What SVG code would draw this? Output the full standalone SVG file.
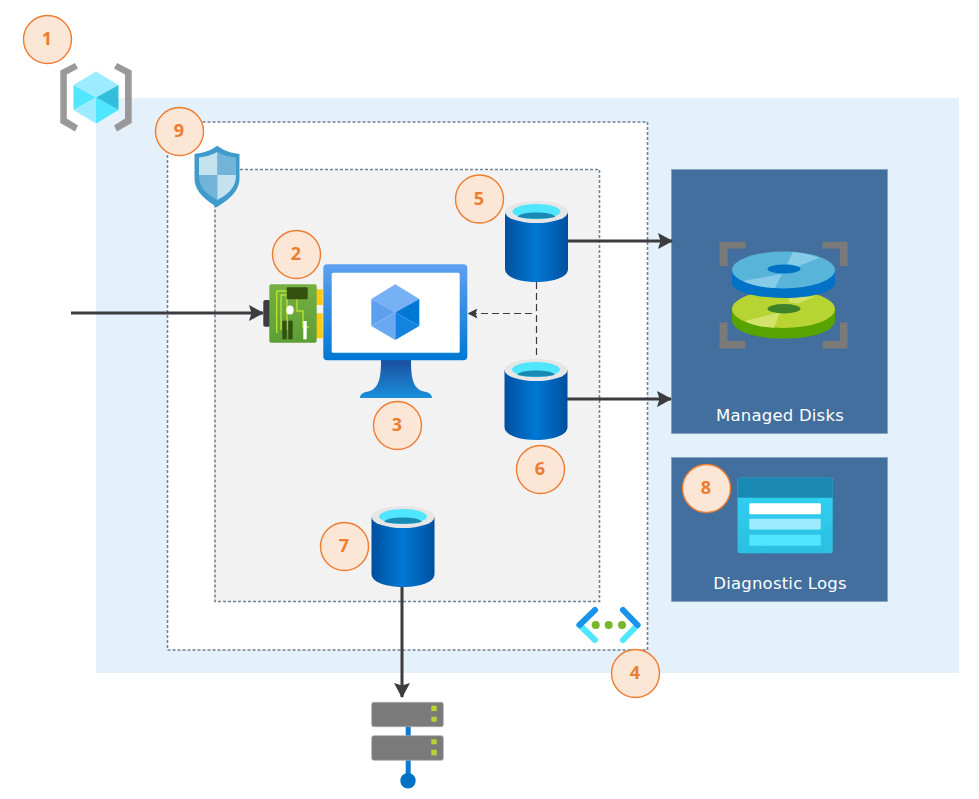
<svg xmlns="http://www.w3.org/2000/svg" width="979" height="799" viewBox="0 0 979 799">
<style>
.badge circle{fill:#fce6d6;stroke:#ed7d31;stroke-width:1.4}
.badge text{font-family:"Open Sans","Noto Sans",sans-serif;font-weight:700;font-size:18px;fill:#ed7d31;text-anchor:middle}
.lbl{font-family:"DejaVu Sans",Verdana,sans-serif;font-size:16.500px;letter-spacing:.2px;fill:#fff;text-anchor:middle}
.dash{stroke:#6f8296;stroke-width:1.600;stroke-dasharray:3 2}
.conn{fill:none;stroke:#3b3b40;stroke-width:3}
.thin{fill:none;stroke:#3b3b40;stroke-width:1.200;stroke-dasharray:7 4}
.panel{fill:#426f9d;stroke:#7f9fc0;stroke-width:.7}
.rack{fill:#7a7a7a;stroke:#aaa;stroke-width:.7}
.led{fill:#b8d432}
.chev{fill:none;stroke-width:6;stroke-linecap:round}
.dot{fill:#76b82a}
.bracket{fill:#999}
</style>
<defs>
<marker id="ah" markerUnits="userSpaceOnUse" viewBox="0 0 15 16" refX="14" refY="8" markerWidth="15" markerHeight="16" orient="auto"><path d="M0 0L15 8L0 16L2.500 8Z" fill="#3b3b40"/></marker>
<marker id="as" markerUnits="userSpaceOnUse" viewBox="0 0 10 10" refX="9.500" refY="5" markerWidth="10" markerHeight="10" orient="auto"><path d="M0 0L10 5L0 10L2 5Z" fill="#3b3b40"/></marker>
<linearGradient id="cyl"><stop offset="0" stop-color="#00509e"/><stop offset=".5" stop-color="#0078d4"/><stop offset="1" stop-color="#00509e"/></linearGradient>
<linearGradient id="mon" x2="0" y2="1"><stop offset="0" stop-color="#5ea0ef"/><stop offset="1" stop-color="#0078d4"/></linearGradient>
<linearGradient id="stand" x2="0" y2="1"><stop offset="0" stop-color="#1b4f9e"/><stop offset="1" stop-color="#1a8fdc"/></linearGradient>
<linearGradient id="log" x2="0" y2="1"><stop offset="0" stop-color="#32d4f5"/><stop offset="1" stop-color="#2bbfe0"/></linearGradient>
<linearGradient id="board" x2="0" y2="1"><stop offset="0" stop-color="#76b043"/><stop offset="1" stop-color="#5c9e35"/></linearGradient>
<g id="cylinder">
<path d="M0 11V68C0 76 14 81 31.500 81S63 76 63 68V11Z" fill="url(#cyl)"/>
<ellipse cx="31.500" cy="11" rx="31.500" ry="11" fill="#e6e6e6"/>
<ellipse cx="31.500" cy="10.500" rx="24" ry="7.500" fill="#50e6ff"/>
<path d="M12.500 15.500C17 10 46 10 50.500 15.500C46 18.500 17 18.500 12.500 15.500Z" fill="#198ab3"/>
</g>
</defs>

<rect id="region" x="96" y="98" width="863" height="575" fill="#e4f0fa"/>
<g id="vnet"><rect x="167.500" y="122" width="480" height="528" fill="#fff" class="dash"/></g>
<g id="subnet"><rect x="215" y="169.500" width="384.500" height="432" fill="#f2f2f2" class="dash"/></g>

<g id="managed-disks">
<rect class="panel" x="671.500" y="169.500" width="216" height="264"/>
<path d="M719.500 266V241.700H745.500V248.500H727.500V266ZM847.500 266V241.700H822.500V248.500H840V266ZM719.500 322.500V348.500H745.500V340.700H727.500V322.500ZM847.500 322.500V348.500H822.500V340.700H840V322.500Z" fill="#7a7a7a"/>
<path d="M732 309V320C732 331 754 338.500 784 338.500S835 331 835 320V309Z" fill="#57a300"/>
<ellipse cx="783.500" cy="309" rx="51.500" ry="19" fill="#b8d432"/>
<path d="M745 321L780 312.300L774 327.700Q755 327 745 321ZM790 297L815 296.500L798 303.500L788 302Z" fill="#d2e26b"/>
<ellipse cx="784" cy="308.700" rx="16.500" ry="4.700" fill="#3e8128"/>
<path d="M732 270V283C732 291 754 298 784 298S835 291 835 283V270Z" fill="#0072c6"/>
<ellipse cx="783.500" cy="270" rx="51.500" ry="18.500" fill="#59b4d9"/>
<path d="M743 281L782 274L775 288Q755 287 743 281ZM793 252Q808 253 819 258L795 267.500L787 264Z" fill="#86cce8"/>
<ellipse cx="784" cy="269" rx="16.500" ry="4.500" fill="#0072c6"/>
<text class="lbl" x="780" y="421">Managed Disks</text>
</g>

<g id="diagnostic-logs">
<rect class="panel" x="671.500" y="457.500" width="216" height="144"/>
<rect x="737.500" y="477.700" width="95.200" height="75.600" rx="2" fill="url(#log)"/>
<path d="M737.500 497.700V479.700Q737.500 477.700 739.500 477.700H830.700Q832.700 477.700 832.700 479.700V497.700Z" fill="#1a8ab5"/>
<rect x="749.300" y="503.300" width="71.500" height="11" rx="1" fill="#fff"/>
<rect x="749.300" y="518.700" width="71.500" height="10.700" rx="1" fill="#9cebff"/>
<rect x="749.300" y="534.700" width="71.500" height="11" rx="1" fill="#50e6ff"/>
<text class="lbl" x="780" y="589">Diagnostic Logs</text>
</g>

<g id="connectors">
<path class="conn" d="M71 313H263" marker-end="url(#ah)"/>
<path class="conn" d="M567 241H672" marker-end="url(#ah)"/>
<path class="conn" d="M567 399H671" marker-end="url(#ah)"/>
<path class="conn" d="M402 586V697" marker-end="url(#ah)"/>
<path class="thin" d="M536.500 282V362"/>
<path class="thin" d="M532 313.500H468" marker-end="url(#as)"/>
</g>

<g id="resource-group">
<path class="bracket" d="M60.300 70.500L75 63L78 68.500L66.800 74.500V118.500L78 125.500L75 131.500L60.300 123Z"/>
<path class="bracket" d="M131.700 70.500L117 63L114 68.500L125 74.500V118.500L114 125.500L117 131.500L131.700 123Z"/>
<path d="M96 71.500L118.500 85L96 97.500L73.500 85Z" fill="#9cebff"/>
<path d="M73.500 85L96 97.500L73.500 110Z" fill="#50e6ff"/>
<path d="M118.500 85V110L96 97.500Z" fill="#32bedd"/>
<path d="M73.500 110L96 97.500V123.500Z" fill="#9cebff"/>
<path d="M118.500 110L96 97.500V123.500Z" fill="#50e6ff"/>
</g>

<g id="nsg">
<path d="M217.300 145.700C224 151 232 153 239.500 154V178C239.500 193 226 201 217 207.300C208 201 194.500 193 194.500 178V154C202 153 210 151 217.300 145.700Z" fill="#3f9bcc"/>
<path d="M217.300 152C222 155 230 157 236 157.500V175H217.300Z" fill="#71b4d8"/>
<path d="M217.300 152C212 155 205 157 199 157.500V175H217.300Z" fill="#c5e2ef"/>
<path d="M199 175H217.300V200C208 195 199 189 199 175Z" fill="#71b4d8"/>
<path d="M236 175H217.300V200C226 195 236 189 236 175Z" fill="#c5e2ef"/>
</g>

<g id="nic">
<rect x="263.300" y="300" width="7" height="26.700" rx="2" fill="#3b3b40"/>
<rect x="316" y="289.300" width="6.700" height="15.700" fill="#ffc90e"/>
<rect x="316" y="313.300" width="6.700" height="25" fill="#ffc90e"/>
<rect x="269.300" y="284.300" width="47.400" height="58.400" rx="2" fill="url(#board)"/>
<path d="M276.700 333V291H287V330M281 330V295H287M297 298V311H303V327H309" fill="none" stroke="#b8e02f" stroke-width="1.400"/>
<rect x="286.700" y="287.300" width="21" height="12" rx="1" fill="#33520f"/>
<ellipse cx="290" cy="310" rx="3.700" ry="4.500" fill="#fff"/>
<rect x="282.300" y="320.700" width="4.400" height="18.600" fill="#33520f"/>
<rect x="288.300" y="320.700" width="4.400" height="18.600" fill="#33520f"/>
<rect x="303.300" y="321" width="3.400" height="18.300" fill="#fff"/>
</g>

<g id="vm">
<path d="M381 360H411C411 378 413 389 424 391.500C430 392.500 432 395 432 398H360C360 395 362 392.500 368 391.500C379 389 381 378 381 360Z" fill="url(#stand)"/>
<rect x="323.300" y="264.300" width="144" height="96" rx="4" fill="url(#mon)"/>
<rect x="331.700" y="272.700" width="128" height="80" rx="1.500" fill="#fff"/>
<path d="M395.300 284.300L419.300 299L395.300 312.300L371.300 299Z" fill="#76b0f5"/>
<path d="M371.300 299L395.300 312.300L371.300 326Z" fill="#5ea0ef"/>
<path d="M371.300 326L395.300 312.300V340Z" fill="#6aa8f2"/>
<path d="M419.300 299L395.300 312.300L419.300 326Z" fill="#0078d4"/>
<path d="M419.300 326L395.300 312.300V340Z" fill="#1283de"/>
</g>

<g id="disk-os"><use href="#cylinder" x="505" y="201"/></g>
<g id="disk-data"><use href="#cylinder" x="504.500" y="359"/></g>
<g id="disk-temp"><use href="#cylinder" x="371.500" y="506"/></g>

<g id="vnet-icon">
<path class="chev" d="M579.500 625L595 640" stroke="#50e6ff"/>
<path class="chev" d="M637.500 625L623 640" stroke="#50e6ff"/>
<path class="chev" d="M595 610L579.500 625" stroke="#1b93eb"/>
<path class="chev" d="M623 610L637.500 625" stroke="#1b93eb"/>
<circle class="dot" cx="595.700" cy="625" r="4"/>
<circle class="dot" cx="608.700" cy="625" r="4"/>
<circle class="dot" cx="622" cy="625" r="4"/>
</g>

<g id="on-premises">
<rect x="405.700" y="726" width="5" height="10" fill="#0f78d0"/>
<rect x="405.700" y="760" width="5" height="15" fill="#0f78d0"/>
<circle cx="408" cy="780.700" r="7.700" fill="#0072c6"/>
<rect class="rack" x="371.700" y="702.300" width="71.600" height="24.400" rx="2"/>
<rect class="rack" x="371.700" y="735.700" width="71.600" height="24.600" rx="2"/>
<rect class="led" x="431.300" y="705.700" width="5.400" height="5.400"/>
<rect class="led" x="431.300" y="716.700" width="5.400" height="5"/>
<rect class="led" x="431.300" y="739.300" width="5.400" height="5"/>
<rect class="led" x="431.300" y="749.700" width="5.400" height="5.600"/>
</g>

<g class="badge" id="badge-1"><circle cx="47.500" cy="39.500" r="24"/><text x="47" y="45">1</text></g>
<g class="badge" id="badge-9"><circle cx="179.500" cy="131.500" r="24"/><text x="179" y="137">9</text></g>
<g class="badge" id="badge-2"><circle cx="296.500" cy="254.500" r="24"/><text x="296" y="260">2</text></g>
<g class="badge" id="badge-3"><circle cx="397.500" cy="425.500" r="24"/><text x="397" y="431">3</text></g>
<g class="badge" id="badge-5"><circle cx="479.500" cy="199" r="24"/><text x="479" y="205">5</text></g>
<g class="badge" id="badge-6"><circle cx="540.500" cy="469.500" r="24"/><text x="540" y="475">6</text></g>
<g class="badge" id="badge-7"><circle cx="344.500" cy="546.500" r="24"/><text x="344" y="552">7</text></g>
<g class="badge" id="badge-8"><circle cx="706.500" cy="488.500" r="24"/><text x="706" y="494">8</text></g>
<g class="badge" id="badge-4"><circle cx="635.500" cy="673.500" r="24"/><text x="635" y="679">4</text></g>
</svg>
